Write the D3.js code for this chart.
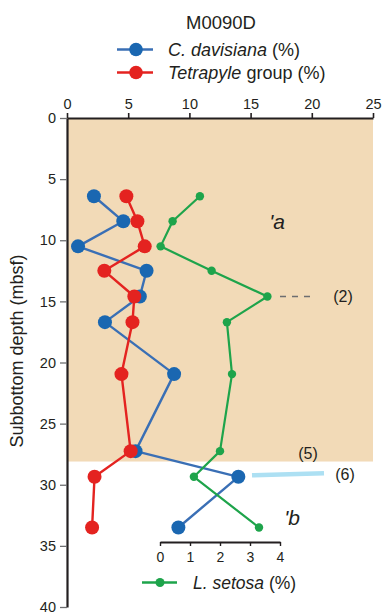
<!DOCTYPE html>
<html>
<head>
<meta charset="utf-8">
<script src="https://cdn.jsdelivr.net/npm/d3@7/dist/d3.min.js"></script>
<style>
  html, body { margin: 0; padding: 0; background: #fff; }
  svg { display: block; font-family: "Liberation Sans", Arial, sans-serif; }
</style>
</head>
<body>
<svg id="chart" width="382" height="613"></svg>
<script>
// Sample depths (mbsf) at site M0090D
const depths = [6.4, 8.45, 10.5, 12.5, 14.6, 16.7, 20.95, 27.25, 29.35, 33.5];
// Relative abundances (%)
const davisiana = [2.2, 4.6, 0.9, 6.5, 5.95, 3.1, 8.75, 5.6, 14.0, 9.1];
const tetrapyle = [4.85, 5.75, 6.35, 3.05, 5.5, 5.35, 4.45, 5.2, 2.25, 2.05];
const setosa = [1.33, 0.42, 0.02, 1.72, 3.58, 2.23, 2.4, 2.0, 1.13, 3.3];

const topTicks = [0, 5, 10, 15, 20, 25];
const depthTicks = [0, 5, 10, 15, 20, 25, 30, 35, 40];
const setosaTicks = [0, 1, 2, 3, 4];
const unitBoundary = 28.1; // base of shaded unit 'a

const C_BLUE = "#1a67b1", C_BLUE_LINE = "#3a6fb5", C_RED = "#e42320", C_GREEN = "#1ea44b";
const INK = "#231f20";
const FONT = "Liberation Sans, Arial, sans-serif";

const svg = d3.select("#chart");
const x = d3.scaleLinear().domain([0, 25]).range([67, 373]);
const y = d3.scaleLinear().domain([0, 40]).range([118, 607]);
const xs = d3.scaleLinear().domain([0, 4]).range([160, 280]);
const setosaAxisY = 542;

// shaded unit
svg.append("rect")
  .attr("x", x(0)).attr("y", y(0))
  .attr("width", x(25) - x(0)).attr("height", y(unitBoundary) - y(0))
  .attr("fill", "#f2dab7");

// title & legend
svg.append("text").attr("x", 221).attr("y", 28.5).attr("text-anchor", "middle")
  .attr("font-size", 18.5).attr("fill", INK).text("M0090D");

function legendRow(yy, color, lineColor, italicPart, rest) {
  const g = svg.append("g");
  g.append("line").attr("x1", 117).attr("x2", 153).attr("y1", yy).attr("y2", yy)
    .attr("stroke", lineColor).attr("stroke-width", 2.5);
  g.append("circle").attr("cx", 136).attr("cy", yy).attr("r", 6.8).attr("fill", color);
  const t = g.append("text").attr("x", 168).attr("y", yy + 6).attr("font-size", 18).attr("fill", INK);
  t.append("tspan").attr("font-style", "italic").text(italicPart);
  t.append("tspan").text(rest);
}
legendRow(49.5, C_BLUE, C_BLUE_LINE, "C. davisiana", " (%)");
legendRow(72.5, C_RED, C_RED, "Tetrapyle", " group (%)");

// top axis
const topAxis = svg.append("g").attr("transform", `translate(0,${y(0)})`)
  .call(d3.axisTop(x).tickValues(topTicks).tickSize(5).tickSizeOuter(0));
topAxis.select(".domain").attr("stroke", INK).attr("stroke-width", 2.2);
topAxis.selectAll(".tick line").attr("stroke", INK).attr("stroke-width", 1.6);
topAxis.selectAll(".tick text").attr("font-size", 14.5).attr("fill", INK)
  .attr("font-family", FONT).attr("dy", "-0.1em");

// left axis
const leftAxis = svg.append("g").attr("transform", `translate(${x(0)},0)`)
  .call(d3.axisLeft(y).tickValues(depthTicks).tickSize(7).tickSizeOuter(0));
leftAxis.select(".domain").attr("stroke", INK).attr("stroke-width", 2.2);
leftAxis.selectAll(".tick line").attr("stroke", "#6d6e70").attr("stroke-width", 1.3);
leftAxis.selectAll(".tick text").attr("font-size", 14.5).attr("fill", INK)
  .attr("font-family", FONT).attr("x", -11);

svg.append("text").attr("transform", `translate(23,351) rotate(-90)`)
  .attr("text-anchor", "middle").attr("font-size", 18).attr("fill", INK)
  .text("Subbottom depth (mbsf)");

// annotations
svg.append("line").attr("x1", 280).attr("x2", 316).attr("y1", y(14.6)).attr("y2", y(14.6))
  .attr("stroke", "#6d6e70").attr("stroke-width", 1.6).attr("stroke-dasharray", "6,6");
svg.append("text").attr("x", 343).attr("y", y(14.6) + 6).attr("text-anchor", "middle")
  .attr("font-size", 16).attr("fill", INK).text("(2)");
svg.append("line").attr("x1", 252).attr("x2", 324).attr("y1", 475.3).attr("y2", 473.3)
  .attr("stroke", "#ade0f3").attr("stroke-width", 4.5);
svg.append("text").attr("x", 308).attr("y", 459).attr("text-anchor", "middle")
  .attr("font-size", 16).attr("fill", INK).text("(5)");
svg.append("text").attr("x", 345).attr("y", 480).attr("text-anchor", "middle")
  .attr("font-size", 16).attr("fill", INK).text("(6)");
svg.append("text").attr("x", 277).attr("y", 229).attr("text-anchor", "middle")
  .attr("font-size", 21).attr("font-style", "italic").attr("fill", INK).text("'a");
svg.append("text").attr("x", 292).attr("y", 525).attr("text-anchor", "middle")
  .attr("font-size", 21).attr("font-style", "italic").attr("fill", INK).text("'b");

// series: line first, then markers
function series(vals, xScale, lineColor, markColor, r, w) {
  const pts = vals.map((v, i) => [xScale(v), y(depths[i])]);
  const g = svg.append("g");
  g.append("path").attr("d", d3.line()(pts)).attr("fill", "none")
    .attr("stroke", lineColor).attr("stroke-width", w).attr("stroke-linejoin", "round");
  g.selectAll("circle").data(pts).join("circle")
    .attr("cx", d => d[0]).attr("cy", d => d[1]).attr("r", r).attr("fill", markColor);
}
series(davisiana, x, C_BLUE_LINE, C_BLUE, 7, 2.4);
series(tetrapyle, x, C_RED, C_RED, 7, 2.4);
series(setosa, xs, C_GREEN, C_GREEN, 4.2, 2.2);

// L. setosa axis
const bAxis = svg.append("g").attr("transform", `translate(0,${setosaAxisY})`)
  .call(d3.axisBottom(xs).tickValues(setosaTicks).tickFormat(d3.format("d"))
    .tickSize(4).tickSizeOuter(0));
bAxis.select(".domain").attr("stroke", INK).attr("stroke-width", 1.8);
bAxis.selectAll(".tick line").attr("stroke", INK).attr("stroke-width", 1.4);
bAxis.selectAll(".tick text").attr("font-size", 14).attr("fill", INK)
  .attr("font-family", FONT).attr("dy", "0.95em");

svg.append("line").attr("x1", 142).attr("x2", 177).attr("y1", 582.5).attr("y2", 582.5)
  .attr("stroke", C_GREEN).attr("stroke-width", 2.4);
svg.append("circle").attr("cx", 160).attr("cy", 582.5).attr("r", 4.5).attr("fill", C_GREEN);
const lt = svg.append("text").attr("x", 193).attr("y", 589).attr("font-size", 17.5).attr("fill", INK);
lt.append("tspan").attr("font-style", "italic").text("L. setosa");
lt.append("tspan").text(" (%)");
</script>
</body>
</html>
